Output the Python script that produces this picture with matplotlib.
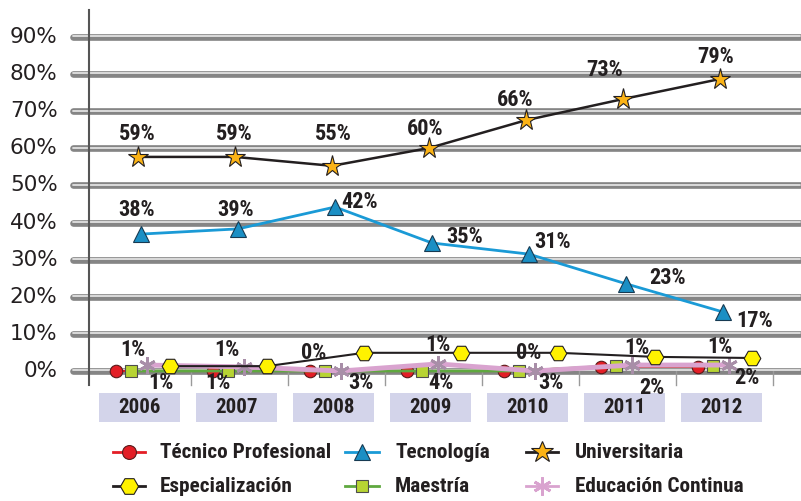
import matplotlib
matplotlib.use('Agg')
import matplotlib.pyplot as plt
from matplotlib.lines import Line2D
from matplotlib.patches import Rectangle

# data
years = ['2006', '2007', '2008', '2009', '2010', '2011', '2012']
universitaria = [57.7, 57.7, 55.3, 60.1, 67.6, 73.3, 78.7]
universitaria_lbl = ['59%', '59%', '55%', '60%', '66%', '73%', '79%']
tecnologia = [36.9, 38.3, 44.2, 34.5, 31.5, 23.5, 15.9]
tecnologia_lbl = ['38%', '39%', '42%', '35%', '31%', '23%', '17%']
tecnico = [0, 0, 0, 0, 0, 1.1, 1.1]
maestria = [0, 0, 0, 0, 0, 1.4, 1.4]
educacion = [1.6, 1.1, 0, 1.9, 0, 1.6, 1.6]
especializacion = [1.3, 1.3, 4.9, 4.9, 4.9, 3.8, 3.5]
upper_lbl = ['1%', '1%', '0%', '1%', '0%', '1%', '1%']
lower_lbl = ['1%', '1%', '3%', '4%', '3%', '2%', '2%']
series_names = ['Técnico Profesional', 'Tecnología', 'Universitaria',
                'Especialización', 'Maestría', 'Educación Continua']

TXT = '#231f20'
NARROW = ['Roboto Condensed', 'Open Sans Condensed', 'Lato']

fig = plt.figure(figsize=(8.01, 5.01), dpi=100)
ax = fig.add_axes([70 / 801, 76 / 501, 731 / 801, 415 / 501])
ax.set_xlim(-0.732, 6.804)
ax.set_ylim(-14.56, 97.3)
ax.axis('off')

x = list(range(len(years)))

# tube-like gridlines
for v in range(0, 100, 10):
    ax.plot([-0.70, 6.79], [v, v], color='#858585', lw=4.8, solid_capstyle='round', zorder=1)
    ax.plot([-0.70, 6.79], [v + 0.2, v + 0.2], color='#e2e2e2', lw=1.3, solid_capstyle='round', zorder=1.1)
    ax.text(-0.86, v, f'{v}%', ha='right', va='center', fontsize=15.5, color=TXT, clip_on=False)

# vertical axis line and category ticks
ax.plot([-0.536, -0.536], [-3.8, 97.3], color='#555555', lw=1.5, zorder=2, clip_on=False)
for i in x:
    ax.plot([i + 0.52, i + 0.52], [0, -3.8], color='#9a9a9a', lw=1, zorder=1)

# year boxes
for i, yr in enumerate(years):
    ax.add_patch(Rectangle((i - 0.43, -13.7), 0.83, 7.8, facecolor='#d3d4ea', edgecolor='none', zorder=1))
    ax.text(i - 0.015, -9.8, yr, ha='center', va='center', fontsize=15, fontweight='bold',
            family=NARROW, color=TXT)

# series styles: (line color, lw, marker, ms, face, edge, mew)
styles = {
    'Técnico Profesional': ('#e31e26', 1.5, 'o', 9, '#e31e26', '#5a1a1a', 0.8),
    'Maestría': ('#5fa83f', 2, 's', 8, '#b7d433', '#4d4d4d', 0.8),
    'Educación Continua': ('#d9a3cf', 3.5, (6, 2, 0), 12, '#d9a3cf', '#a88ea8', 2),
    'Especialización': ('#231f20', 1.5, 'H', 12, '#fff200', '#231f20', 0.8),
    'Universitaria': ('#231f20', 1.8, '*', 15.5, '#fbb316', '#231f20', 0.8),
    'Tecnología': ('#1a9ad6', 2, '^', 11, '#1b8fc4', '#173a52', 0.8),
}
plot_data = [
    ('Técnico Profesional', tecnico, -0.26, 4),
    ('Maestría', maestria, -0.10, 5),
    ('Educación Continua', educacion, 0.06, 6),
    ('Especialización', especializacion, 0.30, 7),
    ('Universitaria', universitaria, -0.03, 7),
    ('Tecnología', tecnologia, 0.0, 7),
]
for name, vals, off, z in plot_data:
    c, lw, m, ms, fc, ec, mew = styles[name]
    ax.plot([i + off for i in x], vals, color=c, lw=lw, marker=m, ms=ms,
            mfc=fc, mec=ec, mew=mew, zorder=z)

# data labels (pixel positions converted to data coords)
def px(xp, yp):
    return (xp - 141) / 97.0, (371 - yp) / 3.71

uni_pos = [(137, 134), (234, 134), (333, 134), (425, 129), (515, 100), (605, 70), (716, 57)]
tec_pos = [(137, 210), (236, 210), (360, 202), (465, 237), (553, 242), (668, 278), (755, 321)]
up_pos = [(133, 350), (227, 350), (314, 353), (438, 345), (529, 353), (637, 348), (720, 347)]
lo_pos = [(161, 383), (218, 383), (361, 383), (441, 383), (551, 383), (652, 388), (747, 378)]

for labels, pos in [(universitaria_lbl, uni_pos), (tecnologia_lbl, tec_pos),
                    (upper_lbl, up_pos), (lower_lbl, lo_pos)]:
    for lbl, (xp, yp) in zip(labels, pos):
        dx, dy = px(xp, yp)
        ax.text(dx, dy, lbl, ha='center', va='center', fontsize=16, fontweight='bold',
                family=NARROW, color=TXT, zorder=10)

# legend drawn by hand (two rows, three columns)
col_x = [(113, 145, 160), (345, 379, 395), (526, 558, 575)]
row_y = [452, 486]
for k, name in enumerate(series_names):
    r, cidx = divmod(k, 3)
    x0, x1, tx = col_x[cidx]
    yf = 1 - row_y[r] / 501
    c, lw, m, ms, fc, ec, mew = styles[name]
    fig.add_artist(Line2D([x0 / 801, x1 / 801], [yf, yf], color=c, lw=2, transform=fig.transFigure))
    fig.add_artist(Line2D([(x0 + x1) / 2 / 801], [yf], marker=m, ms=ms + 1, mfc=fc,
                          mec=ec if name != 'Educación Continua' else fc, mew=mew,
                          transform=fig.transFigure))
    fig.text(tx / 801, yf, name, ha='left', va='center', fontsize=15.3, fontweight='bold',
             family=NARROW, color=TXT)

fig.savefig('out.png', dpi=100)
